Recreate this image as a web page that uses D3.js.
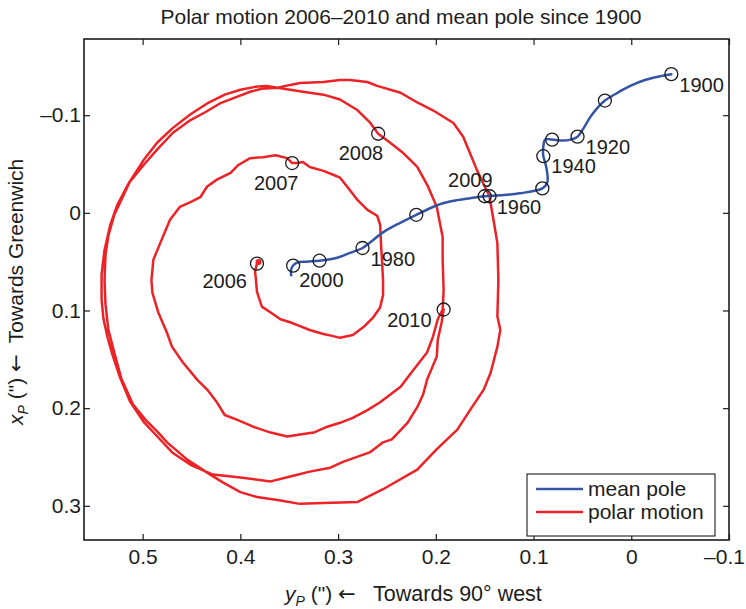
<!DOCTYPE html>
<html><head><meta charset="utf-8">
<script src="https://cdn.jsdelivr.net/npm/d3@7"></script>
<style>
body{margin:0;background:#fff}
text{font-family:"Liberation Sans",Arial,Helvetica,sans-serif;fill:#1c1c1c}
</style>
</head><body>
<svg id="c" width="746" height="609"></svg>
<script>
// ---- data (arcseconds) ----
const xTicks = [0.5, 0.4, 0.3, 0.2, 0.1, 0, -0.1];   // y_P axis (horizontal)
const yTicks = [-0.1, 0, 0.1, 0.2, 0.3];             // x_P axis (vertical)

// mean pole path 1900 -> 2010
const meanYp = [-0.041,-0.030,-0.014,0.001,0.014,0.027,0.035,0.042,0.048,0.055,0.062,0.071,0.081,0.088,0.090,0.090,0.088,0.086,0.086,0.091,0.114,0.134,0.150,0.165,0.178,0.192,0.203,0.220,0.236,0.254,0.267,0.275,0.288,0.301,0.319,0.332,0.342,0.346,0.348,0.348];
const meanXp = [-0.142,-0.140,-0.136,-0.130,-0.123,-0.115,-0.107,-0.098,-0.088,-0.078,-0.075,-0.074,-0.075,-0.075,-0.068,-0.058,-0.051,-0.041,-0.031,-0.025,-0.020,-0.018,-0.017,-0.015,-0.013,-0.010,-0.006,0.002,0.010,0.020,0.030,0.036,0.041,0.046,0.049,0.050,0.051,0.054,0.058,0.064];
const meanMarkYears = [1900,1910,1920,1930,1940,1950,1960,1970,1980,1990,2000];
const meanMarkYp = [-0.041,0.027,0.055,0.081,0.090,0.091,0.150,0.220,0.275,0.319,0.346];
const meanMarkXp = [-0.142,-0.115,-0.078,-0.075,-0.058,-0.025,-0.017,0.002,0.036,0.049,0.054];
const meanLabelYears = [1900,1920,1940,1960,1980,2000];

// polar motion 2006 -> 2010
const polarYp = [
 0.383,0.385,0.384,0.383,0.378,0.369,0.359,0.349,0.339,0.329,0.315,0.306,0.298,0.285,0.274,0.264,0.257,0.254,0.254,0.255,0.256,0.257,0.260,0.270,0.280,0.290,0.298,0.305,0.315,0.329,0.336,0.342,0.347,
 0.352,0.364,0.377,0.390,0.402,0.410,0.424,0.434,0.441,0.451,0.462,0.472,0.482,0.489,0.491,0.490,0.484,0.475,0.470,0.459,0.444,0.434,0.424,0.416,0.403,0.387,0.369,0.352,0.339,0.325,0.311,0.298,0.285,0.270,0.257,0.236,0.223,0.209,0.203,0.198,0.193,0.192,0.193,0.193,0.199,0.208,0.219,0.233,0.247,0.259,
 0.267,0.280,0.298,0.315,0.336,0.349,0.362,0.378,0.390,0.403,0.421,0.436,0.451,0.469,0.485,0.499,0.513,0.521,0.529,0.535,0.538,0.539,0.538,0.535,0.529,0.522,0.510,0.497,0.484,0.475,0.454,0.434,0.418,0.400,0.383,0.362,0.339,0.315,0.280,0.254,0.219,0.199,0.178,0.165,0.151,0.144,0.137,0.134,0.137,0.136,0.137,0.141,0.144,0.145,
 0.151,0.158,0.165,0.172,0.182,0.203,0.219,0.236,0.260,0.270,0.288,0.298,0.315,0.339,0.349,0.362,0.373,0.385,0.400,0.416,0.434,0.451,0.469,0.485,0.499,0.515,0.526,0.533,0.539,0.542,0.542,0.540,0.536,0.531,0.523,0.513,0.499,0.485,0.469,0.451,0.428,0.400,0.369,0.349,0.329,0.308,0.295,0.267,0.254,0.245,0.229,0.219,0.213,0.209,0.204,0.199,0.198,0.194,0.192];
const polarXp = [
 0.052,0.060,0.069,0.081,0.096,0.102,0.109,0.112,0.116,0.120,0.124,0.126,0.128,0.125,0.117,0.107,0.097,0.084,0.069,0.050,0.033,0.012,0.003,-0.003,-0.013,-0.026,-0.036,-0.039,-0.043,-0.047,-0.052,-0.051,-0.051,
 -0.056,-0.059,-0.057,-0.056,-0.049,-0.041,-0.034,-0.027,-0.016,-0.011,-0.006,0.007,0.031,0.048,0.069,0.082,0.102,0.123,0.137,0.153,0.171,0.181,0.194,0.207,0.212,0.219,0.225,0.229,0.227,0.225,0.219,0.215,0.210,0.202,0.194,0.178,0.161,0.143,0.127,0.109,0.099,0.079,0.048,0.025,-0.006,-0.027,-0.047,-0.061,-0.072,-0.081,
 -0.092,-0.105,-0.116,-0.121,-0.124,-0.126,-0.128,-0.127,-0.124,-0.119,-0.112,-0.103,-0.095,-0.082,-0.065,-0.049,-0.032,-0.015,0.002,0.023,0.043,0.069,0.094,0.120,0.143,0.169,0.196,0.212,0.225,0.235,0.253,0.266,0.276,0.286,0.291,0.294,0.298,0.297,0.296,0.283,0.263,0.242,0.222,0.202,0.181,0.164,0.137,0.120,0.106,0.069,0.031,0.007,-0.010,-0.017,
 -0.029,-0.044,-0.061,-0.078,-0.092,-0.105,-0.113,-0.123,-0.130,-0.134,-0.136,-0.136,-0.134,-0.133,-0.131,-0.128,-0.130,-0.129,-0.126,-0.121,-0.112,-0.101,-0.087,-0.072,-0.054,-0.029,-0.008,0.012,0.038,0.063,0.089,0.109,0.127,0.145,0.169,0.193,0.214,0.229,0.246,0.258,0.268,0.271,0.275,0.270,0.265,0.261,0.255,0.245,0.235,0.232,0.215,0.199,0.186,0.171,0.159,0.147,0.130,0.112,0.099];
const polarMarkYears = [2006,2007,2008,2009,2010];
const polarMarkYp = [0.383,0.347,0.259,0.145,0.192];
const polarMarkXp = [0.052,-0.051,-0.081,-0.017,0.099];

const legendLabels = ["mean pole","polar motion"];

// ---- layout / style ----
const M = {left:84, right:729, top:39, bottom:540};
const FS = 21, FSY = 20;
const blue = "#3454a4", red = "#ec2227", ink = "#1c1c1c";
const labelLayout = {
  1900:{dx:8,dy:18,a:"start"}, 1920:{dx:8,dy:17,a:"start"}, 1940:{dx:8,dy:17,a:"start"},
  1960:{dx:12,dy:18,a:"start"}, 1980:{dx:8,dy:18,a:"start"}, 2000:{dx:6,dy:21,a:"start"},
  2006:{dx:-10,dy:24,a:"end"}, 2007:{dx:-16,dy:27,a:"middle"}, 2008:{dx:5,dy:26,a:"end"},
  2009:{dx:3,dy:-9,a:"end"}, 2010:{dx:-12,dy:17,a:"end"}
};

const svg = d3.select("#c");
const x = d3.scaleLinear().domain([0.56, -0.1]).range([M.left, M.right]);
const y = d3.scaleLinear().domain([-0.178, 0.335]).range([M.top, M.bottom]);

const fmt = d => d === 0 ? "0" : (d < 0 ? "\u2013" : "") + Math.abs(d).toFixed(1);

function styleAxis(g){
  g.select(".domain").remove();
  g.selectAll("line").attr("stroke", ink).attr("stroke-width", 1.2);
  g.selectAll("text").attr("font-size", FS).attr("font-family", "Liberation Sans, Arial, sans-serif").attr("fill", ink);
}
const gx = svg.append("g").attr("transform", `translate(0,${M.bottom})`)
  .call(d3.axisBottom(x).tickValues(xTicks).tickFormat(fmt).tickSize(-6).tickSizeOuter(0).tickPadding(9)).call(styleAxis);
gx.selectAll(".tick text").filter(d => d < 0).attr("dx", -5);
svg.append("g").attr("transform", `translate(0,${M.top})`)
  .call(d3.axisTop(x).tickValues(xTicks).tickFormat("").tickSize(-6).tickSizeOuter(0)).call(styleAxis);
svg.append("g").attr("transform", `translate(${M.left},0)`)
  .call(d3.axisLeft(y).tickValues(yTicks).tickFormat(fmt).tickSize(-6).tickSizeOuter(0).tickPadding(3)).call(styleAxis);
svg.append("g").attr("transform", `translate(${M.right},0)`)
  .call(d3.axisRight(y).tickValues(yTicks).tickFormat("").tickSize(-6).tickSizeOuter(0)).call(styleAxis);

// polar motion
const polar = polarYp.map((v,i)=>[v, polarXp[i]]);
const lineP = d3.line().x(d=>x(d[0])).y(d=>y(d[1]));
svg.append("path").datum(polar).attr("d", lineP).attr("fill","none")
  .attr("stroke", red).attr("stroke-width", 2.5).attr("stroke-linejoin","round").attr("stroke-linecap","round");
svg.append("circle").attr("cx", x(polar[0][0])+1.5).attr("cy", y(polar[0][1])-1.5).attr("r", 3).attr("fill", red);

// mean pole
const mean = meanYp.map((v,i)=>[v, meanXp[i]]);
const lineM = d3.line().x(d=>x(d[0])).y(d=>y(d[1])).curve(d3.curveCatmullRom.alpha(0.5));
svg.append("path").datum(mean).attr("d", lineM).attr("fill","none")
  .attr("stroke", blue).attr("stroke-width", 2.5).attr("stroke-linecap","round");

// markers
const marks = meanMarkYears.map((yr,i)=>({yr, a:meanMarkYp[i], b:meanMarkXp[i]}))
  .concat(polarMarkYears.map((yr,i)=>({yr, a:polarMarkYp[i], b:polarMarkXp[i]})));
svg.append("g").selectAll("circle").data(marks).join("circle")
  .attr("cx", d=>x(d.a)).attr("cy", d=>y(d.b)).attr("r", 6.5)
  .attr("fill","none").attr("stroke", ink).attr("stroke-width", 1.3);

const labelled = marks.filter(d => meanLabelYears.includes(d.yr) || polarMarkYears.includes(d.yr));
svg.append("g").selectAll("text").data(labelled).join("text")
  .attr("x", d=>x(d.a)+labelLayout[d.yr].dx).attr("y", d=>y(d.b)+labelLayout[d.yr].dy)
  .attr("text-anchor", d=>labelLayout[d.yr].a).attr("font-size", FSY).text(d=>d.yr);

// frame
svg.append("rect").attr("x", M.left).attr("y", M.top).attr("width", M.right-M.left).attr("height", M.bottom-M.top)
  .attr("fill","none").attr("stroke", ink).attr("stroke-width", 1.6);

// legend
const lg = svg.append("g");
lg.append("rect").attr("x",527).attr("y",474).attr("width",188).attr("height",62)
  .attr("fill","#fff").attr("stroke", ink).attr("stroke-width",1.1);
[blue, red].forEach((c,i)=>{
  const yy = 489 + i*23;
  lg.append("line").attr("x1",536).attr("x2",583).attr("y1",yy).attr("y2",yy).attr("stroke",c).attr("stroke-width",2.5);
  lg.append("text").attr("x",588).attr("y",yy+7).attr("font-size",FS).text(legendLabels[i]);
});

// title
svg.append("text").attr("x", 401).attr("y", 24).attr("text-anchor","middle").attr("font-size", FS)
  .text("Polar motion 2006\u20132010 and mean pole since 1900");

// axis labels
const xl = svg.append("text").attr("x", 285).attr("y", 601).attr("font-size", FS);
xl.append("tspan").attr("font-style","italic").text("y");
xl.append("tspan").attr("font-style","italic").attr("font-size",14).attr("dy",5).text("P");
xl.append("tspan").attr("dy",-5).text(" (\") ");
xl.append("tspan").style("font-family","DejaVu Sans").attr("font-size",21).text("\u2190");
xl.append("tspan").attr("font-size",21.5).text("\u00a0\u00a0 Towards 90\u00b0 west");

const yl = svg.append("text").attr("transform","translate(23,425) rotate(-90)").attr("font-size", FS);
yl.append("tspan").attr("font-style","italic").text("x");
yl.append("tspan").attr("font-style","italic").attr("font-size",14).attr("dy",5).text("P");
yl.append("tspan").attr("dy",-5).text(" (\") ");
yl.append("tspan").style("font-family","DejaVu Sans").attr("font-size",21).text("\u2190");
yl.append("tspan").text("\u00a0 Towards Greenwich");
</script>
</body></html>
